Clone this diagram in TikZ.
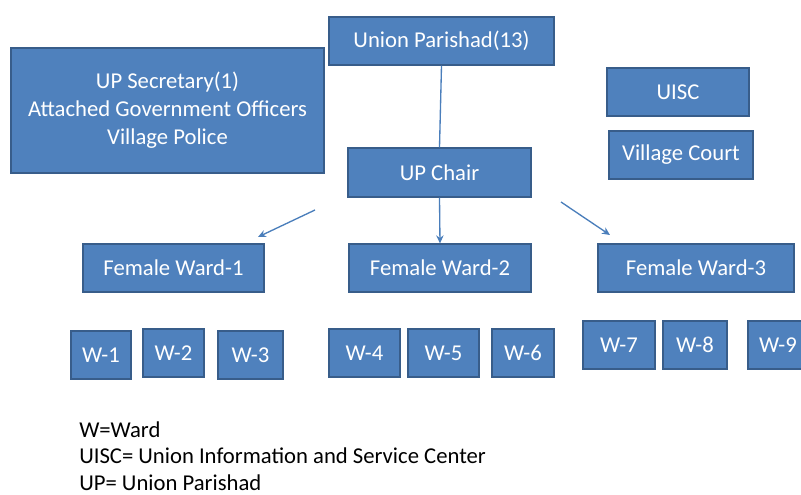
\documentclass[tikz,border=0pt]{standalone}
\usepackage{fontspec}
\setmainfont{Carlito}
\usetikzlibrary{arrows.meta}
\definecolor{boxblue}{RGB}{79,129,189}
\definecolor{boxline}{RGB}{56,93,138}
\definecolor{arrowblue}{RGB}{74,126,187}

\begin{document}
\begin{tikzpicture}[x=0.75pt,y=-0.75pt,
  blk/.style={draw=boxline,fill=boxblue,line width=0.9pt,text=white,
    inner sep=0pt,align=center,font=\fontsize{17}{21}\selectfont},
  sz/.style 2 args={minimum width=#1*0.75pt,minimum height=#2*0.75pt},
  link/.style={draw=arrowblue,line width=1pt},
  tip/.style={link,-{Stealth[length=6pt,width=5.5pt]}}]
\useasboundingbox (0,0) rectangle (801,495);
% top level
\node[blk,sz={313}{125}] (sec) at (167.5,110.5)
  {UP Secretary(1)\\Attached Government Officers\\Village Police};
\node[blk,sz={225}{48}] (up) at (441.5,41) {Union Parishad(13)};
\node[blk,sz={142}{48}] (uisc) at (678,92) {UISC};
\node[blk,sz={144}{48}] (court) at (681,155) {Village Court};
\node[blk,sz={183}{49}] (chair) at (439.5,172.5) {UP Chair};
% female wards
\node[blk,sz={181}{48}] (fw1) at (173.5,268) {Female Ward-1};
\node[blk,sz={182}{48}] (fw2) at (440,268) {Female Ward-2};
\node[blk,sz={196}{48}] (fw3) at (696,268) {Female Ward-3};
% wards
\node[blk,sz={60}{48}] (w1) at (101,355) {W-1};
\node[blk,sz={61}{48}] (w2) at (173.5,353) {W-2};
\node[blk,sz={65}{48}] (w3) at (250.5,355) {W-3};
\node[blk,sz={71}{48}] (w4) at (364.5,353) {W-4};
\node[blk,sz={71}{48}] (w5) at (443.5,353) {W-5};
\node[blk,sz={62}{48}] (w6) at (523,353) {W-6};
\node[blk,sz={72}{48}] (w7) at (619,345) {W-7};
\node[blk,sz={64}{48}] (w8) at (695,345) {W-8};
\node[blk,sz={60}{48}] (w9) at (778,345) {W-9};
% connectors
\coordinate (l0) at (315,210);
\coordinate (l1) at (258,237);
\coordinate (r0) at (561,202);
\coordinate (r1) at (610,235);
\draw[link] (up.south) -- (chair.north);
\draw[tip] (chair.south) -- (fw2.north);
\draw[tip] (l0) -- (l1);
\draw[tip] (r0) -- (r1);
% legend
\node[anchor=west,inner sep=0pt,font=\fontsize{17}{20}\selectfont,align=left] (key) at (79,456)
  {W=Ward\\UISC= Union Information and Service Center\\UP= Union Parishad};
\end{tikzpicture}
\end{document}
